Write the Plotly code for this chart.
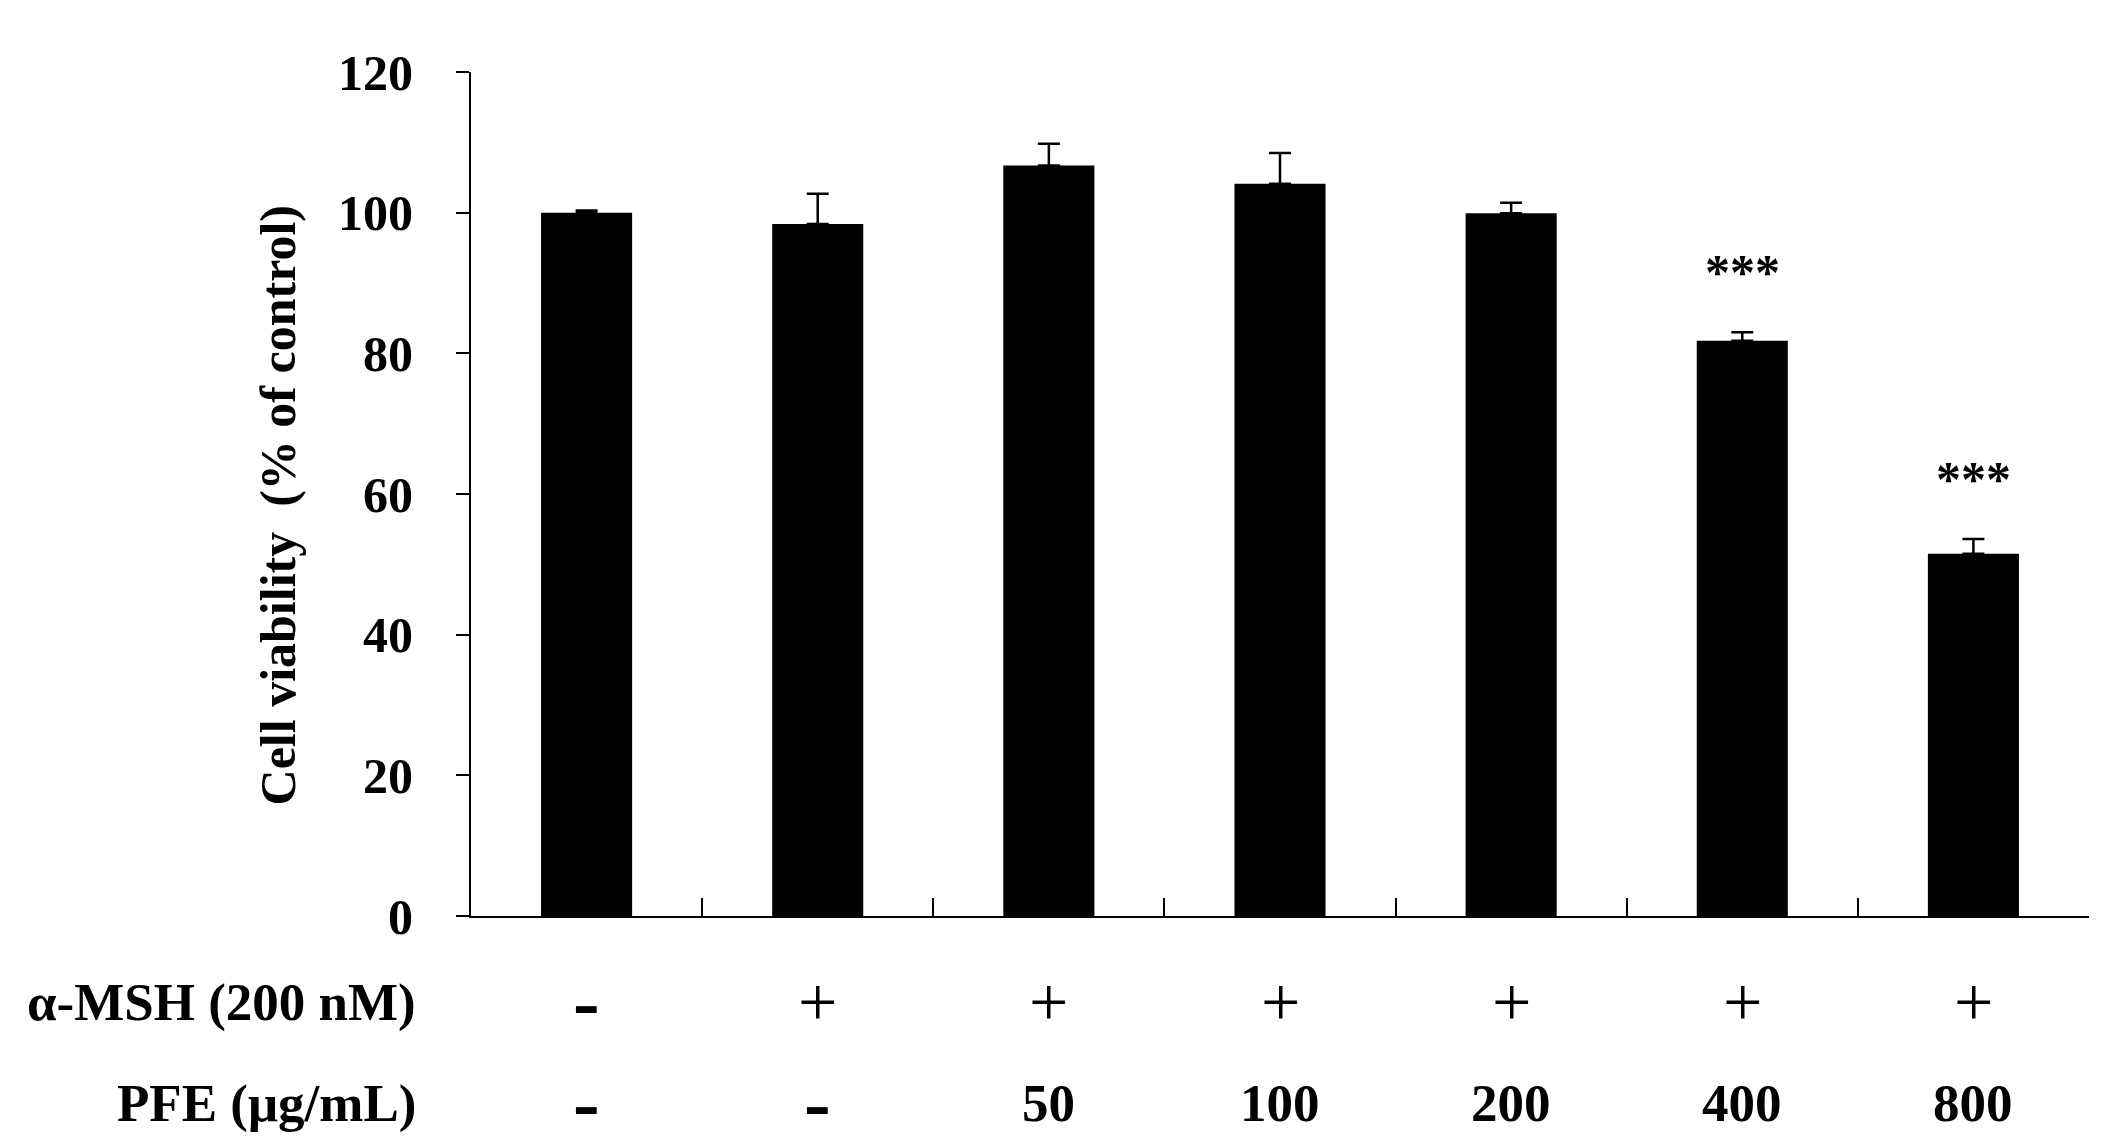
import plotly.graph_objects as go

# values
groups = [0, 1, 2, 3, 4, 5, 6]
viability = [100.0, 98.4, 106.7, 104.1, 99.9, 81.8, 51.5]
sem = [0.3, 4.3, 3.1, 4.4, 1.5, 1.2, 2.1]
msh_row = ["-", "+", "+", "+", "+", "+", "+"]
pfe_row = ["-", "-", "50", "100", "200", "400", "800"]
stars = ["", "", "", "", "", "***", "***"]
y_ticks = [0, 20, 40, 60, 80, 100, 120]

serif = "Liberation Serif, Times New Roman, serif"
row_y = [-0.102, -0.222]

fig = go.Figure(
    data=go.Bar(
        x=groups,
        y=viability,
        width=0.394,
        marker=dict(color="black", line=dict(width=0)),
        error_y=dict(
            type="data",
            symmetric=False,
            array=sem,
            arrayminus=[0] * len(sem),
            color="black",
            thickness=2.5,
            width=11,
        ),
    )
)


def row_font(txt):
    if txt == "+":
        return dict(family=serif, size=70, color="black")
    if txt == "-":
        return dict(family=serif, size=80, color="black", weight="bold")
    return dict(family=serif, size=53, color="black", weight="bold")


annotations = []
for g, m, p in zip(groups, msh_row, pfe_row):
    for txt, yy in ((m, row_y[0]), (p, row_y[1])):
        annotations.append(dict(x=g, y=yy, xref="x", yref="paper", text=txt,
                                xanchor="center", yanchor="middle", showarrow=False,
                                font=row_font(txt)))

for g, s, v, e in zip(groups, stars, viability, sem):
    if s:
        annotations.append(dict(
            x=g, y=v + e + 8.5, xref="x", yref="y", text=s, showarrow=False,
            xanchor="center", yanchor="middle",
            font=dict(family=serif, size=50, color="black", weight="bold"),
        ))

for label, yy in (("α-MSH (200 nM)", row_y[0]), ("PFE (μg/mL)", row_y[1])):
    annotations.append(dict(x=-0.0328, y=yy, xref="paper", yref="paper",
                            text=label, showarrow=False, xanchor="right", yanchor="middle",
                            font=dict(family=serif, size=53, color="black", weight="bold")))

annotations.append(dict(x=-0.119, y=0.487, xref="paper", yref="paper",
                        text="Cell viability  (% of control)", textangle=-90, showarrow=False,
                        xanchor="center", yanchor="middle",
                        font=dict(family=serif, size=50, color="black", weight="bold")))

fig.update_layout(
    width=2120,
    height=1146,
    margin=dict(l=463, r=39, t=64, b=238),
    paper_bgcolor="white",
    plot_bgcolor="white",
    showlegend=False,
    annotations=annotations,
    xaxis=dict(
        range=[-0.5, 6.5],
        showgrid=False,
        zeroline=False,
        showline=True,
        linecolor="black",
        linewidth=2,
        ticks="inside",
        tickvals=[0.5, 1.5, 2.5, 3.5, 4.5, 5.5, 6.5],
        ticklen=18,
        tickwidth=2,
        tickcolor="black",
        showticklabels=False,
    ),
    yaxis=dict(
        range=[0, 120],
        tickvals=y_ticks,
        showgrid=False,
        zeroline=False,
        showline=True,
        linecolor="black",
        linewidth=2,
        ticks="outside",
        ticklen=13,
        tickwidth=2,
        tickcolor="black",
        ticklabelstandoff=33,
        tickfont=dict(family=serif, size=50, color="black", weight="bold"),
    ),
)

fig.write_html("out.html")
